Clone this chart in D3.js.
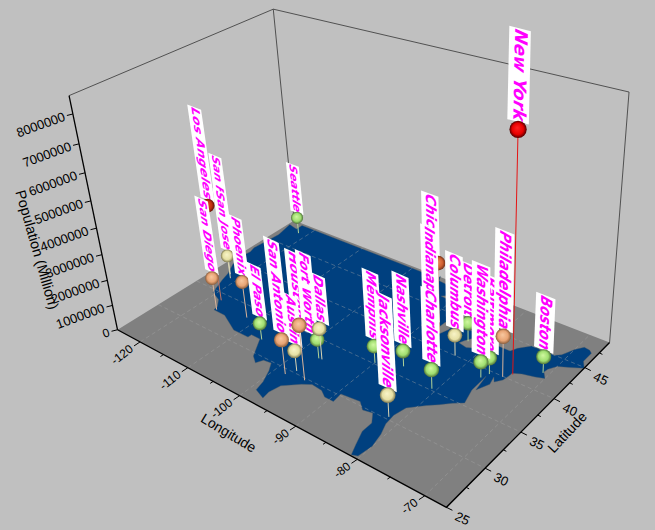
<!DOCTYPE html>
<html><head><meta charset="utf-8">
<script src="https://cdn.jsdelivr.net/npm/d3@7"></script>
<style>html,body{margin:0;padding:0;background:#c0c0c0;}svg{display:block;}</style></head>
<body><svg id="c" width="655" height="530"></svg>
<script>
const cityNames=["Seattle","Los Angeles","San Francisco","San Jose","San Diego","Phoenix","El Paso","Chicago","Dallas","Fort Worth","Houston","Austin","San Antonio","Memphis","Nashville","Indianapolis","Detroit","Columbus","Charlotte","Jacksonville","Baltimore","Washington","Philadelphia","Boston","New York"];
const cityLon=[-121.6,-118.0,-122.0,-121.2,-116.8,-111.7,-106.2,-86.9,-96.3,-96.8,-95.2,-97.4,-98.2,-90,-86.4,-86.2,-82.6,-82.2,-80.6,-81.7,-76.3,-76.8,-74.6,-70.8,-73.8];
const cityLat=[47.6,34.05,37.8,37.3,32.7,33.45,31.8,41.9,32.8,32.75,29.75,30.3,29.4,35.15,36.2,39.8,42.35,40,35.2,30.3,39.6,38.8,39.95,42.35,40.7];
const cityPop=[680000,3800000,800000,950000,1300000,1450000,650000,2700000,1200000,740000,2100000,790000,1330000,650000,600000,820000,710000,790000,730000,820000,620000,600000,1530000,620000,8300000];
const lonTicks=[-120,-110,-100,-90,-80,-70];
const lonMinor=[-115,-105,-95,-85,-75];
const latTicks=[25,30,35,40,45];
const latMinor=[27.5,32.5,37.5,42.5,47.5];
const popTicks=[0,1000000,2000000,3000000,4000000,5000000,6000000,7000000,8000000];
const lonDomain=[-125,-67], latDomain=[25,49.3], popDomain=[0,8600000];
const usOutline=[[-124.7,48.4],[-123.2,48.15],[-122.75,48.1],[-122.8,49],[-110,49],[-95.15,49],[-95.15,49.4],[-94.6,48.7],[-93,48.6],[-91.5,48.1],[-89.6,48],[-92,46.7],[-90.5,46.6],[-88.4,47.4],[-87.5,46.5],[-85,46.7],[-84.5,46.4],[-84.1,46],[-85.5,46],[-87,45.7],[-87.6,45.1],[-88,44.6],[-87.4,44.9],[-87.7,43.5],[-87.8,42.3],[-87.5,41.7],[-86.8,41.8],[-86.3,42.8],[-86.5,44],[-85.5,45],[-84.8,45.8],[-83.4,45.1],[-83.4,44],[-83.9,43.7],[-82.9,44],[-82.4,43],[-83.1,42.2],[-83.4,41.7],[-82,41.5],[-80,42.2],[-78.9,42.9],[-79.1,43.3],[-76.8,43.3],[-76.3,44],[-75,45],[-71.5,45],[-70.8,45.4],[-70.3,46.2],[-70,46.7],[-69.2,47.45],[-68.3,47.35],[-67.8,47.05],[-67.8,45.7],[-67,44.9],[-68.5,44.3],[-70,43.8],[-70.7,43],[-70.8,42.5],[-70,41.8],[-71.2,41.5],[-72.9,41.2],[-74,40.8],[-74,40.5],[-74.2,39.6],[-74.9,38.95],[-75.5,39.5],[-75.1,38.5],[-75.9,37.2],[-76.4,39.2],[-76.3,37],[-75.6,35.3],[-76.8,34.7],[-78,33.9],[-79.2,33.2],[-81,32],[-81.4,30.7],[-81.2,29.5],[-80.5,28.3],[-80,26.8],[-80.3,25.3],[-81.1,25.1],[-81.8,26.2],[-82.7,27.7],[-82.7,28.9],[-83.8,29.9],[-85.2,29.7],[-86.5,30.4],[-88,30.3],[-89.5,30.2],[-89.3,29.1],[-90.8,29.1],[-92,29.6],[-93.8,29.7],[-95,29.2],[-97,28],[-97.4,26.8],[-97.2,25.95],[-99.1,26.4],[-99.5,27.5],[-100.5,28.9],[-101.4,29.8],[-102.7,29.7],[-103.2,29],[-104.5,29.6],[-106.5,31.75],[-108.2,31.78],[-108.2,31.33],[-111.07,31.33],[-114.8,32.5],[-117.1,32.53],[-117.3,33.1],[-118.5,34],[-120.6,34.55],[-121.9,36.6],[-122.5,37.8],[-123.8,39.3],[-124.4,40.4],[-124.1,42],[-124.5,42.8],[-124,46.2]];

const uS=d3.scaleLinear().domain(lonDomain).range([0,1]);
const vS=d3.scaleLinear().domain(latDomain).range([0,1]);
const wS=d3.scaleLinear().domain(popDomain).range([0,1]);
const colorS=d3.scaleThreshold().domain([770000,1250000,2500000,3500000,5000000]).range(["green","yellow","orange","brown","darkred","red"]);
const ballColors={green:["#d0f8a0","#a0de70","#4c6f38"],yellow:["#f8f4c8","#e6e0a4","#7d7850"],orange:["#f8c8a0","#e8a474","#8a5c3a"],brown:["#f09060","#d06030","#70301a"],darkred:["#e85020","#c03010","#601008"],red:["#ff2020","#e80000","#500000"]};

const corners=[[0,0,0,118,328],[1,0,0,447,508],[1,1,0,610,342],[0,1,0,293,222],[0,0,1,68,97],[0,1,1,275,8],[1,1,1,628,92]];
function fit(cs){
  const A=[],b=[];
  cs.forEach(([u,v,w,x,y])=>{
    A.push([u,v,w,1,0,0,0,0,-x*u,-x*v,-x*w]);b.push(x);
    A.push([0,0,0,0,u,v,w,1,-y*u,-y*v,-y*w]);b.push(y);
  });
  const n=11,M=[];
  for(let i=0;i<n;i++){M.push(new Array(n+1).fill(0));
    for(let j=0;j<n;j++)for(let k=0;k<A.length;k++)M[i][j]+=A[k][i]*A[k][j];
    for(let k=0;k<A.length;k++)M[i][n]+=A[k][i]*b[k];}
  for(let i=0;i<n;i++){let p=i;for(let r=i+1;r<n;r++)if(Math.abs(M[r][i])>Math.abs(M[p][i]))p=r;
    [M[i],M[p]]=[M[p],M[i]];
    for(let r=0;r<n;r++)if(r!==i){const f=M[r][i]/M[i][i];for(let c=i;c<=n;c++)M[r][c]-=f*M[i][c];}}
  return M.map((r,i)=>r[n]/r[i]);
}
const K=fit(corners);
function den(u,v,w){return K[8]*u+K[9]*v+K[10]*w+1;}
function P(u,v,w){const d=den(u,v,w);return [(K[0]*u+K[1]*v+K[2]*w+K[3])/d,(K[4]*u+K[5]*v+K[6]*w+K[7])/d];}
const G=(lon,lat,pop)=>P(uS(lon),vS(lat),wS(pop));
const line=d3.line();
const svg=d3.select("#c");
svg.append("rect").attr("width",655).attr("height",530).attr("fill","#c0c0c0");
const defs=svg.append("defs");
Object.entries(ballColors).forEach(([k,c])=>{
  const g=defs.append("radialGradient").attr("id","b-"+k).attr("cx","50%").attr("cy","50%").attr("r","50%").attr("fx","45%").attr("fy","40%");
  g.append("stop").attr("offset","0%").attr("stop-color",c[0]);
  g.append("stop").attr("offset","65%").attr("stop-color",c[1]);
  g.append("stop").attr("offset","100%").attr("stop-color",c[2]);
});
const [lon0,lon1]=lonDomain,[lat0,lat1]=latDomain,top_=popDomain[1];
svg.append("path").attr("d",line([G(lon0,lat0,top_),G(lon0,lat1,top_),G(lon1,lat1,top_),G(lon1,lat1,0)])).attr("fill","none").attr("stroke","#444").attr("stroke-width",0.9);
svg.append("path").attr("d",line([G(lon0,lat1,top_),G(lon0,lat1,0)])).attr("fill","none").attr("stroke","#444").attr("stroke-width",0.9);
svg.append("path").attr("d",line([G(lon0,lat0,0),G(lon1,lat0,0),G(lon1,lat1,0),G(lon0,lat1,0)])+"Z").attr("fill","#808080");
svg.append("path").attr("d",line(usOutline.map(d=>G(d[0],d[1],0)))+"Z").attr("fill","#00407f").attr("stroke","#4a5a6a").attr("stroke-width",0.4);
const grid=svg.append("g").attr("fill","none").attr("stroke","#a8a8a8").attr("stroke-width",0.8).attr("stroke-dasharray","4 3").attr("opacity",0.5);
lonTicks.forEach(l=>grid.append("path").attr("d",line([G(l,lat0,0),G(l,lat1,0)])));
latTicks.slice(1).forEach(l=>grid.append("path").attr("d",line([G(lon0,l,0),G(lon1,l,0)])));
const axes=svg.append("g").attr("fill","none").attr("stroke","#000");
axes.append("path").attr("d",line([G(lon0,lat0,0),G(lon1,lat0,0),G(lon1,lat1,0)])).attr("stroke-width",1.4);
axes.append("path").attr("d",line([G(lon0,lat0,0),G(lon0,lat0,top_)])).attr("stroke-width",1.3);
const txt=svg.append("g").attr("font-family","'Liberation Sans',Arial,sans-serif").attr("fill","#000");
function label(p,dx,dy,ang,s,anchor,size){
  txt.append("text").attr("transform",`translate(${p[0]+dx},${p[1]+dy}) rotate(${ang})`).attr("text-anchor",anchor).attr("font-size",size).attr("dominant-baseline","middle").text(s);
}
function tick(p,dx,dy){axes.append("path").attr("d",line([p,[p[0]+dx,p[1]+dy]])).attr("stroke-width",1);}
lonTicks.forEach(l=>{const p=G(l,lat0,0);tick(p,-6,4);label(p,-8,6,-38,String(l),"end",12);});
lonMinor.forEach(l=>tick(G(l,lat0,0),-3,2));
latTicks.forEach(l=>{const q=G(lon1,l,0);tick(q,6,3);label(q,9,9,25,String(l),"start",13);});
latMinor.forEach(l=>tick(G(lon1,l,0),3,1.5));
popTicks.forEach(t=>{const p=G(lon0,lat0,t);tick(p,-6,1.5);label(p,-8,3,-20,String(t),"end",t===0?12:13);});
label([228,434],0,0,31,"Longitude","middle",14);
label([568,433],0,0,-47,"Latitude","middle",14);
label([36,250],0,0,74,"Population (Million)","middle",14.5);

const order=d3.range(cityNames.length).sort((a,b)=>den(uS(cityLon[b]),vS(cityLat[b]),0)-den(uS(cityLon[a]),vS(cityLat[a]),0));
const refD=den(uS(-74),vS(40.7),wS(8200000));
const backLabels=svg.append("g");
const pins=svg.append("g");
const kw=0.0058,ku=0.0039;
const labelsBehind=new Set(["Houston"]);
const labelNudge={"Fort Worth":-7,"Dallas":2,"Chicago":-7,"Indianapolis":2};
order.forEach(i=>{
  const name=cityNames[i];
  const u=uS(cityLon[i]),v=vS(cityLat[i]),w=wS(cityPop[i]);
  const p=P(u,v,w),base=P(u,v,0),key=colorS(cityPop[i]);
  const r=8.6*refD/den(u,v,w);
  const g=pins.append("g");
  g.append("path").attr("d",line([base,p])).attr("stroke",d3.interpolateRgb(ballColors[key][1],"#c8c8c8")(key==="red"?0.1:0.45)).attr("stroke-width",1);
  const e=0.01,wm=w+0.12;
  const P0=P(u,v,wm),Pw=P(u,v,wm+e),Pu=P(u+e,v,wm);
  const ax=-(Pw[0]-P0[0])/e*kw,ay=-(Pw[1]-P0[1])/e*kw;
  const bx=-(Pu[0]-P0[0])/e*ku,by=-(Pu[1]-P0[1])/e*ku;
  const anchor=[p[0]+(labelNudge[name]||0),p[1]-r+1];
  const lab=(labelsBehind.has(name)?backLabels:g).append("g");
  const t=lab.append("text").attr("font-family","'DejaVu Sans',sans-serif").attr("font-weight","bold").attr("font-style","italic").attr("font-size",10).attr("fill","#ff00ff").attr("dominant-baseline","middle").text(name);
  const L=t.node().getComputedTextLength();
  lab.insert("rect","text").attr("x",-0.5).attr("y",-6.2).attr("width",L+1).attr("height",12.4).attr("fill","#fff");
  lab.attr("transform",`matrix(${ax},${ay},${bx},${by},${anchor[0]-ax*(L+0.5)},${anchor[1]-ay*(L+0.5)})`);
  g.append("circle").attr("cx",p[0]).attr("cy",p[1]).attr("r",r).attr("fill",`url(#b-${key})`);
});
</script></body></html>
